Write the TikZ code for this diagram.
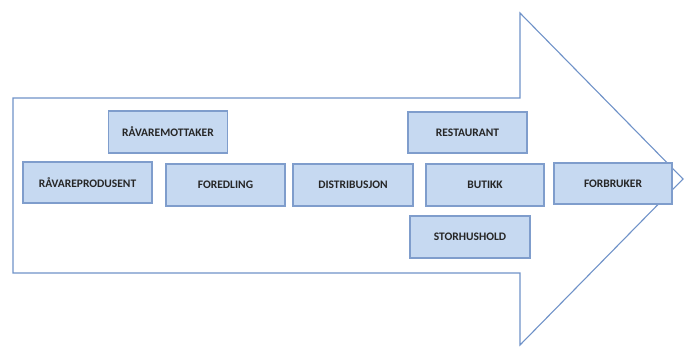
\documentclass[tikz,border=0pt]{standalone}
\usepackage{fontspec}
\setmainfont{Carlito}
\usepackage{tikz}
\usetikzlibrary{positioning}
\definecolor{boxfill}{HTML}{C6D9F1}
\definecolor{boxline}{HTML}{7F9DCC}
\definecolor{arrowline}{HTML}{6F92C8}

\begin{document}
\begin{tikzpicture}[x=1pt,y=-1pt,
  stage/.style={draw=boxline,fill=boxfill,line width=1.4pt,rectangle,
    minimum width=119pt,minimum height=42pt,inner sep=0pt,
    font=\fontsize{11.5}{13}\selectfont\bfseries,text=black!85}]
\useasboundingbox (0,0) rectangle (684,361);
% the big arrow
\draw[arrowline,line width=1.1pt,line join=miter]
  (13,98) -- (520,98) -- (520,13) -- (683,179) -- (520,345) -- (520,273) -- (13,273) -- cycle;
% the stages
\node[stage] (mottaker) at (168,132) {RÅVAREMOTTAKER};
\node[stage,minimum width=129pt,minimum height=41pt] (produsent) at (87.5,182.5) {RÅVAREPRODUSENT};
\node[stage] (foredling) at (225.5,185) {FOREDLING};
\node[stage,minimum width=120pt] (distribusjon) at (353,185) {DISTRIBUSJON};
\node[stage,minimum height=41pt] (restaurant) at (467.5,132.5) {RESTAURANT};
\node[stage,minimum width=118pt] (butikk) at (485,185) {BUTIKK};
\node[stage,minimum width=120pt] (storhushold) at (470,237) {STORHUSHOLD};
\node[stage,minimum width=118pt,minimum height=41pt] (forbruker) at (613,183.5) {FORBRUKER};
\end{tikzpicture}
\end{document}
